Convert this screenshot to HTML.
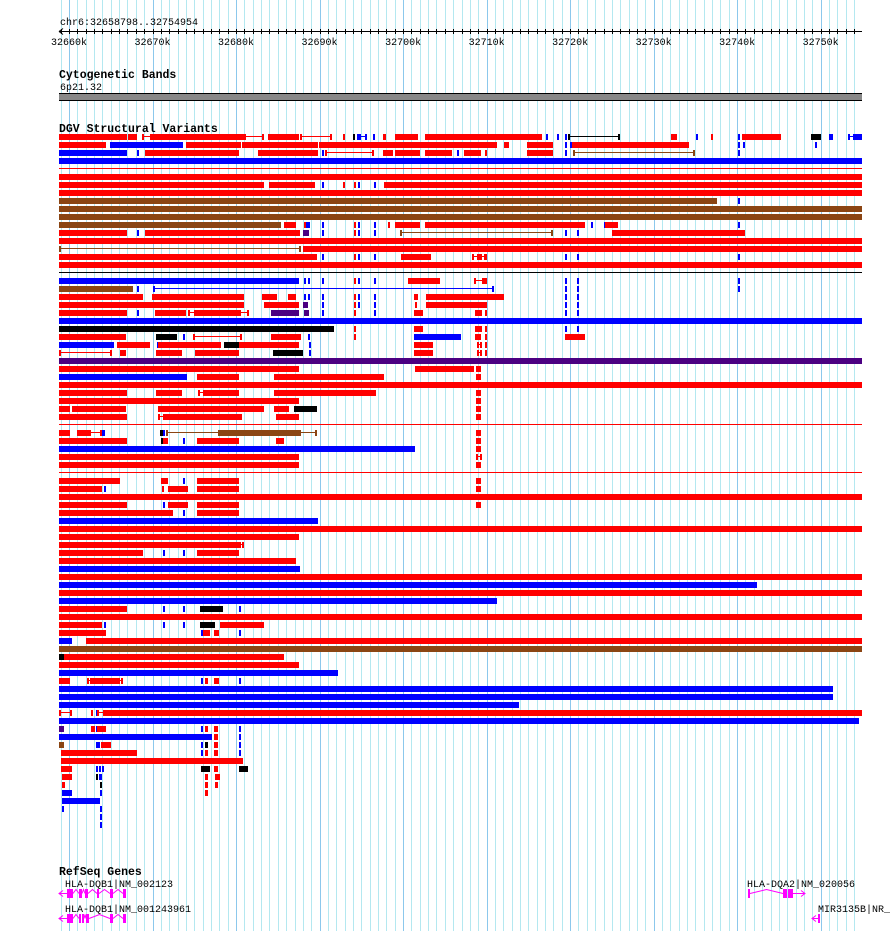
<!DOCTYPE html>
<html><head><meta charset="utf-8">
<style>
html,body{margin:0;padding:0;background:#fff;}
svg{display:block;}
text{font-family:"Liberation Mono","DejaVu Sans Mono",monospace;}
</style></head>
<body>
<svg id="chart" width="890" height="931" viewBox="0 0 890 931" xmlns="http://www.w3.org/2000/svg">
  <g id="grid"></g>
  <g id="ruler">
    <text x="60" y="25" font-size="10">chr6:32658798..32754954</text>
  </g>
  <g>
    <text x="59" y="78" font-size="11.5" font-weight="bold">Cytogenetic Bands</text>
    <text x="60" y="90" font-size="10">6p21.32</text>
    <rect x="59" y="93" width="803" height="8" fill="#000"/>
    <rect x="59" y="94" width="803" height="6" fill="#888"/>
  </g>
  <g>
    <text x="59" y="132" font-size="11.5" font-weight="bold">DGV Structural Variants</text>
    <g id="dgv"></g>
  </g>
  <g>
    <text x="59" y="875" font-size="11.5" font-weight="bold">RefSeq Genes</text>
    <text x="65" y="887" font-size="10">HLA-DQB1|NM_002123</text>
    <text x="65" y="912" font-size="10">HLA-DQB1|NM_001243961</text>
    <text x="747" y="887" font-size="10">HLA-DQA2|NM_020056</text>
    <text x="818" y="912" font-size="10">MIR3135B|NR_039786</text>
    <g id="genes"></g>
  </g>
</svg>
<script>
// genomic coordinates in kb past chr6:32,600,000
const viewStartKb = 58.798;
const viewEndKb = 154.954;
const majorTicksKb = [60,70,80,90,100,110,120,130,140,150];
const tickLabels = ["32660k","32670k","32680k","32690k","32700k","32710k","32720k","32730k","32740k","32750k"];
const F = [58.77,154.95];
// each row: list of [startKb, endKb, type]; type r/b/k/n/p box, rl/nl/kl/bl line w/ ends, rt/kt thin line
const dgvRows = [
 [[58.77,67.0,'r'],[67.1,68.1,'r'],[68.7,69.9,'rl'],[69.9,81.0,'r'],[81.0,83.4,'rl'],[83.8,87.5,'r'],[87.6,91.5,'rl'],[92.8,93.05,'r'],[94.0,94.25,'k'],[94.5,95.65,'bl'],[94.5,95.0,'b'],[95.4,95.65,'b'],[96.4,96.65,'b'],[97.6,98.0,'r'],[99.0,101.8,'r'],[102.6,116.6,'r'],[117.1,117.35,'b'],[118.4,118.65,'b'],[119.4,119.65,'b'],[119.8,126.0,'kl'],[132.1,132.8,'r'],[135.1,135.35,'b'],[136.85,137.1,'r'],[140.1,140.35,'b'],[140.6,145.2,'r'],[148.8,150.0,'k'],[151.0,151.5,'b'],[153.25,154.1,'bl'],[154.1,154.95,'b']],
 [[58.77,64.4,'r'],[64.9,73.6,'b'],[74.0,80.6,'r'],[80.7,89.8,'r'],[89.9,111.3,'r'],[112.1,112.7,'r'],[114.8,118.0,'r'],[119.4,119.65,'b'],[120.0,120.2,'b'],[120.2,134.2,'r'],[140.1,140.35,'b'],[140.7,140.95,'b'],[149.3,149.55,'b']],
 [[58.77,67.0,'b'],[68.1,68.35,'b'],[69.1,80.4,'r'],[82.6,89.8,'r'],[90.3,90.55,'b'],[90.7,96.5,'rl'],[97.6,98.8,'r'],[99.0,102.0,'r'],[102.6,105.8,'r'],[106.4,106.65,'b'],[107.3,109.3,'r'],[109.8,110.05,'r'],[114.8,118.0,'r'],[119.4,119.65,'b'],[120.4,134.9,'nl'],[140.1,140.35,'b']],
 [[F[0],F[1],'b']],
 [[F[0],F[1],'rt']],
 [[F[0],F[1],'r']],
 [[58.77,83.4,'r'],[84.0,89.5,'r'],[90.3,90.55,'b'],[92.8,93.05,'r'],[94.1,94.35,'r'],[94.6,94.85,'b'],[96.5,96.75,'b'],[97.7,154.95,'r']],
 [[F[0],F[1],'r']],
 [[58.77,137.6,'n'],[140.1,140.35,'b']],
 [[F[0],F[1],'n']],
 [[F[0],F[1],'n']],
 [[58.77,85.35,'n'],[85.8,87.15,'r'],[88.1,88.35,'r'],[88.35,88.8,'b'],[90.3,90.55,'b'],[94.1,94.35,'r'],[94.6,94.85,'b'],[96.5,96.75,'b'],[98.2,98.45,'r'],[99.0,102.0,'r'],[102.6,121.8,'r'],[122.5,122.75,'b'],[124.0,124.25,'b'],[124.2,125.7,'r'],[140.1,140.35,'b']],
 [[58.77,67.0,'r'],[68.1,68.35,'b'],[69.1,87.6,'r'],[88.0,88.7,'p'],[90.3,90.55,'b'],[94.1,94.35,'r'],[94.6,94.85,'b'],[96.5,96.75,'b'],[99.6,117.9,'nl'],[119.4,119.65,'b'],[120.8,121.05,'b'],[125.0,141.0,'r']],
 [[F[0],F[1],'r']],
 [[58.77,87.75,'nl'],[88.0,154.95,'r']],
 [[58.77,89.65,'r'],[90.3,90.55,'b'],[94.1,94.35,'r'],[94.6,94.85,'b'],[96.5,96.75,'b'],[99.8,103.3,'r'],[108.2,110.0,'rl'],[108.8,109.4,'r'],[109.7,110.0,'r'],[119.4,119.65,'b'],[120.8,121.05,'b'],[140.1,140.35,'b']],
 [[F[0],F[1],'r']],
 [[F[0],F[1],'kt']],
 [[58.77,87.5,'b'],[88.1,88.35,'b'],[88.6,88.85,'b'],[90.3,90.55,'b'],[94.1,94.35,'r'],[94.6,94.85,'b'],[96.5,96.75,'b'],[100.6,104.4,'r'],[108.5,110.0,'rl'],[109.5,110.0,'r'],[119.4,119.65,'b'],[120.8,121.05,'b'],[140.1,140.35,'b']],
 [[58.77,67.7,'n'],[68.1,68.35,'b'],[70.0,110.9,'bl'],[119.4,119.65,'b'],[120.8,121.05,'b'],[140.1,140.35,'b']],
 [[58.77,68.8,'r'],[69.9,81.0,'r'],[83.1,84.9,'r'],[86.2,87.15,'r'],[88.1,88.35,'b'],[88.6,88.85,'b'],[90.3,90.55,'b'],[94.1,94.35,'r'],[94.6,94.85,'b'],[96.5,96.75,'b'],[101.3,101.8,'r'],[102.7,112.1,'r'],[119.4,119.65,'b'],[120.8,121.05,'b']],
 [[58.77,80.9,'r'],[83.3,87.5,'r'],[88.0,88.6,'p'],[90.3,90.55,'b'],[94.1,94.35,'r'],[94.6,94.85,'b'],[96.5,96.75,'b'],[101.4,101.65,'r'],[102.7,110.1,'r'],[119.4,119.65,'b'],[120.8,121.05,'b']],
 [[58.77,67.0,'r'],[68.1,68.35,'b'],[70.3,74.0,'r'],[74.3,75.2,'rl'],[75.2,80.3,'r'],[80.3,81.5,'rl'],[84.15,87.5,'p'],[88.1,88.7,'p'],[90.3,90.55,'b'],[94.1,94.35,'r'],[96.5,96.75,'b'],[101.3,102.4,'r'],[108.6,109.4,'r'],[109.8,110.05,'r'],[119.4,119.65,'b'],[120.8,121.05,'b']],
 [[F[0],F[1],'b']],
 [[58.77,91.7,'k'],[94.1,94.35,'r'],[101.3,102.4,'r'],[108.6,109.4,'r'],[109.8,110.05,'r'],[119.4,119.65,'b'],[120.8,121.05,'b']],
 [[58.77,66.8,'r'],[70.4,72.9,'k'],[73.6,73.85,'b'],[74.8,80.7,'rl'],[84.15,87.75,'r'],[88.6,88.85,'b'],[94.1,94.35,'r'],[101.3,106.9,'b'],[108.6,109.3,'r'],[109.8,110.05,'r'],[119.4,121.8,'r']],
 [[58.77,65.4,'b'],[65.7,69.7,'r'],[70.5,70.75,'b'],[70.6,78.2,'r'],[78.6,80.3,'k'],[80.4,87.5,'r'],[88.7,88.95,'b'],[101.3,103.6,'r'],[108.8,109.4,'rl'],[109.8,110.05,'r']],
 [[58.77,65.2,'rl'],[66.1,66.8,'r'],[70.4,73.5,'r'],[75.1,80.3,'r'],[84.4,88.0,'k'],[88.7,88.95,'b'],[101.3,103.6,'r'],[108.8,109.4,'rl'],[109.8,110.05,'r']],
 [[F[0],F[1],'p']],
 [[58.77,87.5,'r'],[101.4,108.5,'r'],[108.7,109.3,'r']],
 [[58.77,74.1,'b'],[75.3,80.4,'r'],[84.5,97.7,'r'],[108.7,109.3,'r']],
 [[F[0],F[1],'r']],
 [[58.77,67.0,'r'],[70.4,73.5,'r'],[75.4,76.25,'rl'],[76.25,80.4,'r'],[84.5,96.7,'r'],[108.7,109.3,'r']],
 [[58.77,87.5,'r'],[108.7,109.3,'r']],
 [[58.77,60.1,'r'],[60.3,66.8,'r'],[70.6,83.4,'r'],[84.6,86.3,'r'],[86.9,89.65,'k'],[108.7,109.3,'r']],
 [[58.77,67.0,'r'],[70.7,71.5,'rl'],[71.5,80.7,'r'],[84.75,87.5,'r'],[108.7,109.3,'r']],
 [[F[0],F[1],'rt']],
 [[58.77,60.1,'r'],[61.0,62.4,'r'],[62.4,63.9,'rl'],[63.9,64.0,'r'],[64.0,64.3,'b'],[70.9,71.2,'k'],[71.2,71.4,'b'],[71.6,78.05,'nl'],[78.05,87.5,'n'],[87.5,89.65,'nl'],[108.7,109.3,'r']],
 [[58.77,67.0,'r'],[71.0,71.2,'k'],[71.2,71.9,'r'],[73.6,73.85,'b'],[75.3,80.3,'r'],[84.75,85.7,'r'],[108.7,109.3,'r']],
 [[58.77,101.4,'b'],[108.7,109.3,'r']],
 [[58.77,87.5,'r'],[108.7,109.4,'rl']],
 [[58.77,87.5,'r'],[108.7,109.3,'r']],
 [[F[0],F[1],'rt']],
 [[58.77,65.6,'r'],[65.6,66.1,'rl'],[71.0,71.9,'r'],[73.6,73.85,'b'],[75.3,80.3,'r'],[108.7,109.3,'r']],
 [[58.77,63.9,'r'],[64.15,64.4,'b'],[71.1,71.35,'r'],[71.9,74.3,'r'],[75.3,80.3,'r'],[108.7,109.3,'r']],
 [[F[0],F[1],'r']],
 [[58.77,67.0,'r'],[71.2,71.45,'b'],[71.9,74.3,'r'],[75.3,80.3,'r'],[108.7,109.3,'r']],
 [[58.77,72.4,'r'],[73.6,73.85,'b'],[75.3,80.3,'r']],
 [[58.77,89.8,'b']],
 [[F[0],F[1],'r']],
 [[58.77,87.5,'r']],
 [[58.77,80.4,'r'],[80.4,80.9,'rl']],
 [[58.77,68.8,'r'],[71.2,71.45,'b'],[73.6,73.85,'b'],[75.3,80.3,'r']],
 [[58.77,87.15,'r']],
 [[58.77,87.6,'b']],
 [[F[0],F[1],'r']],
 [[58.77,142.4,'b']],
 [[F[0],F[1],'r']],
 [[58.77,111.2,'b']],
 [[58.77,67.0,'r'],[71.2,71.45,'b'],[73.6,73.85,'b'],[75.65,78.4,'k'],[80.4,80.65,'b']],
 [[F[0],F[1],'r']],
 [[58.77,63.9,'r'],[64.15,64.4,'b'],[71.2,71.45,'b'],[73.6,73.85,'b'],[75.65,77.45,'k'],[78.05,83.4,'r']],
 [[58.77,64.4,'r'],[75.8,76.05,'b'],[76.1,76.85,'r'],[77.3,77.9,'r'],[80.4,80.65,'b']],
 [[58.77,60.4,'b'],[62.0,154.95,'r']],
 [[F[0],F[1],'n']],
 [[58.77,59.4,'k'],[59.4,85.7,'r']],
 [[58.77,87.5,'r']],
 [[58.77,92.2,'b']],
 [[58.77,60.1,'r'],[62.1,66.5,'rl'],[62.5,66.1,'r'],[75.8,76.05,'b'],[76.25,76.7,'r'],[77.3,77.9,'r'],[80.4,80.65,'b']],
 [[58.77,151.5,'b']],
 [[58.77,151.5,'b']],
 [[58.77,113.9,'b']],
 [[58.77,60.4,'rl'],[62.6,62.8,'r'],[63.2,63.4,'b'],[63.4,64.3,'rl'],[64.3,154.95,'r']],
 [[58.77,154.6,'b']],
 [[58.77,59.4,'p'],[62.6,63.1,'r'],[63.2,63.4,'b'],[63.4,64.4,'r'],[75.8,76.05,'b'],[76.25,76.7,'r'],[77.3,77.8,'r'],[80.4,80.65,'b']],
 [[58.77,77.1,'b'],[77.3,77.8,'r'],[80.4,80.65,'b']],
 [[58.77,59.4,'n'],[63.2,63.7,'b'],[63.8,65.0,'r'],[75.8,76.05,'b'],[76.25,76.7,'k'],[77.3,77.8,'r'],[80.4,80.65,'b']],
 [[59.0,68.1,'r'],[75.8,76.05,'b'],[76.25,76.7,'r'],[77.3,77.8,'r'],[80.4,80.65,'b']],
 [[59.0,80.8,'r']],
 [[59.0,60.4,'r'],[63.2,63.4,'b'],[63.6,63.8,'b'],[64.0,64.15,'b'],[75.8,76.85,'k'],[77.3,77.8,'r'],[80.3,81.4,'k']],
 [[59.1,60.4,'r'],[63.2,63.4,'k'],[63.6,63.9,'b'],[76.25,76.7,'r'],[77.45,78.05,'r']],
 [[59.2,59.5,'r'],[63.7,63.9,'k'],[76.25,76.7,'r'],[77.45,77.8,'r']],
 [[59.2,60.4,'b'],[63.7,63.95,'b'],[76.25,76.7,'r']],
 [[59.2,63.7,'b']],
 [[59.2,59.45,'b'],[63.7,63.95,'b']],
 [[63.7,63.95,'b']],
 [[63.7,63.95,'b']]
];
// genes
const geneStarts = [58.77, 58.77, 141.3, 149.0];
const geneEnds = [66.8, 66.8, 148.1, 149.9];
const geneStrands = [-1, -1, 1, -1];
const geneExons = [
 [[59.7,60.4],[61.2,61.5],[61.9,62.3],[63.4,63.6],[64.9,65.2],[66.5,66.8]],
 [[59.7,60.4],[61.2,61.4],[61.6,61.8],[62.0,62.3],[64.9,65.2],[66.5,66.8]],
 [[141.3,141.5],[145.5,146.0],[146.1,146.7]],
 [[149.7,149.9]]
];
const geneRowY = [893, 918, 893, 918];

const NS = "http://www.w3.org/2000/svg";
const X0 = 59, X1 = 862;
function xs(kb){ return X0 + (kb - viewStartKb) * (X1 - X0) / (viewEndKb - viewStartKb); }
function mk(tag, attrs, parent){
  const e = document.createElementNS(NS, tag);
  for (const k in attrs) e.setAttribute(k, attrs[k]);
  parent.appendChild(e); return e;
}
const colors = {r:'#ff0000', b:'#0000ff', k:'#000000', n:'#8b4513', p:'#4b0082'};

// grid
const grid = document.getElementById('grid');
for (let kb = 59; kb <= 154; kb++) {
  const x = Math.round(xs(kb)) + 0.5;
  const ln = mk('line', {x1:x, x2:x, y1:0, y2:931, stroke: kb % 10 === 0 ? '#8cc8ec' : '#b4e8f0', 'stroke-width':1}, grid);
  
  
}

// ruler
const ruler = document.getElementById('ruler');
const axl = mk('line', {x1:X0, x2:X1, y1:31.5, y2:31.5, stroke:'#000'}, ruler);


const arr = mk('path', {d:'M59,31.5 L63,28.5 M59,31.5 L63,34.5', stroke:'#000', fill:'none'}, ruler);


for (let kb = 59; kb <= 154; kb++) {
  const x = Math.round(xs(kb)) + 0.5;
  const t = mk('line', {x1:x, x2:x, y1:29, y2:34, stroke:'#000'}, ruler);
  
  
}
majorTicksKb.forEach((kb, i) => {
  const x = xs(kb);
  const t = mk('text', {x:x, y:45, 'font-size':10, 'text-anchor':'middle'}, ruler);
  t.textContent = tickLabels[i];
  
  
});

// DGV
const dgv = document.getElementById('dgv');
dgvRows.forEach((row, k) => {
  const yc = 136.7 + 8 * k;
  const g = mk('g', {}, dgv);
  
  
  row.forEach(seg => {
    const s = seg[0], e = seg[1], t = seg[2];
    const x1 = Math.round(xs(s)), x2 = Math.round(xs(e));
    const top = Math.round(yc - 3);
    if (t === 'rt' || t === 'kt') {
      const c = t === 'rt' ? '#ff0000' : '#000';
      const r = mk('rect', {x:x1, y:Math.round(yc)-1, width:x2-x1, height:1, fill:c}, g);
      
      
    } else if (t.length === 2) {
      const c = colors[t[0]];
      const gg = mk('g', {}, g);
      
      
      mk('rect', {x:x1, y:Math.round(yc)-1, width:Math.max(1,x2-x1), height:1, fill:c}, gg);
      mk('rect', {x:x1, y:top, width:2, height:6, fill:c}, gg);
      mk('rect', {x:x2-2, y:top, width:2, height:6, fill:c}, gg);
    } else {
      const r = mk('rect', {x:x1, y:top, width:Math.max(2, x2-x1), height:6, fill:colors[t]}, g);
      
      
    }
  });
});

// genes
const genes = document.getElementById('genes');
geneStarts.forEach((s, i) => {
  const g = mk('g', {fill:'#ff00ff', stroke:'#ff00ff'}, genes);
  
  
  const y = geneRowY[i];
  const x1 = Math.round(xs(s)), x2 = Math.round(xs(geneEnds[i]));
  const ex = geneExons[i].map(e => [Math.round(xs(e[0])), Math.max(2, Math.round(xs(e[1]) - xs(e[0])))]);
  if (geneStrands[i] < 0) {
    mk('line', {x1:x1, x2:ex[0][0], y1:y+0.5, y2:y+0.5, 'stroke-width':1}, g);
    mk('path', {d:`M${x1+4},${y-2.5} L${x1},${y+0.5} L${x1+4},${y+3.5}`, fill:'none'}, g);
  } else {
    const last = ex[ex.length-1];
    mk('line', {x1:last[0]+last[1], x2:x2, y1:y+0.5, y2:y+0.5}, g);
    mk('path', {d:`M${x2-4},${y-2.5} L${x2},${y+0.5} L${x2-4},${y+3.5}`, fill:'none'}, g);
  }
  for (let j = 0; j < ex.length - 1; j++) {
    const a = ex[j][0] + ex[j][1], b = ex[j+1][0];
    if (b - a > 1) mk('path', {d:`M${a},${y+0.5} L${(a+b)/2},${y-3.5} L${b},${y+0.5}`, fill:'none'}, g);
  }
  ex.forEach(e => mk('rect', {x:e[0], y:y-4, width:e[1], height:9, stroke:'none'}, g));
});
</script>
</body></html>
